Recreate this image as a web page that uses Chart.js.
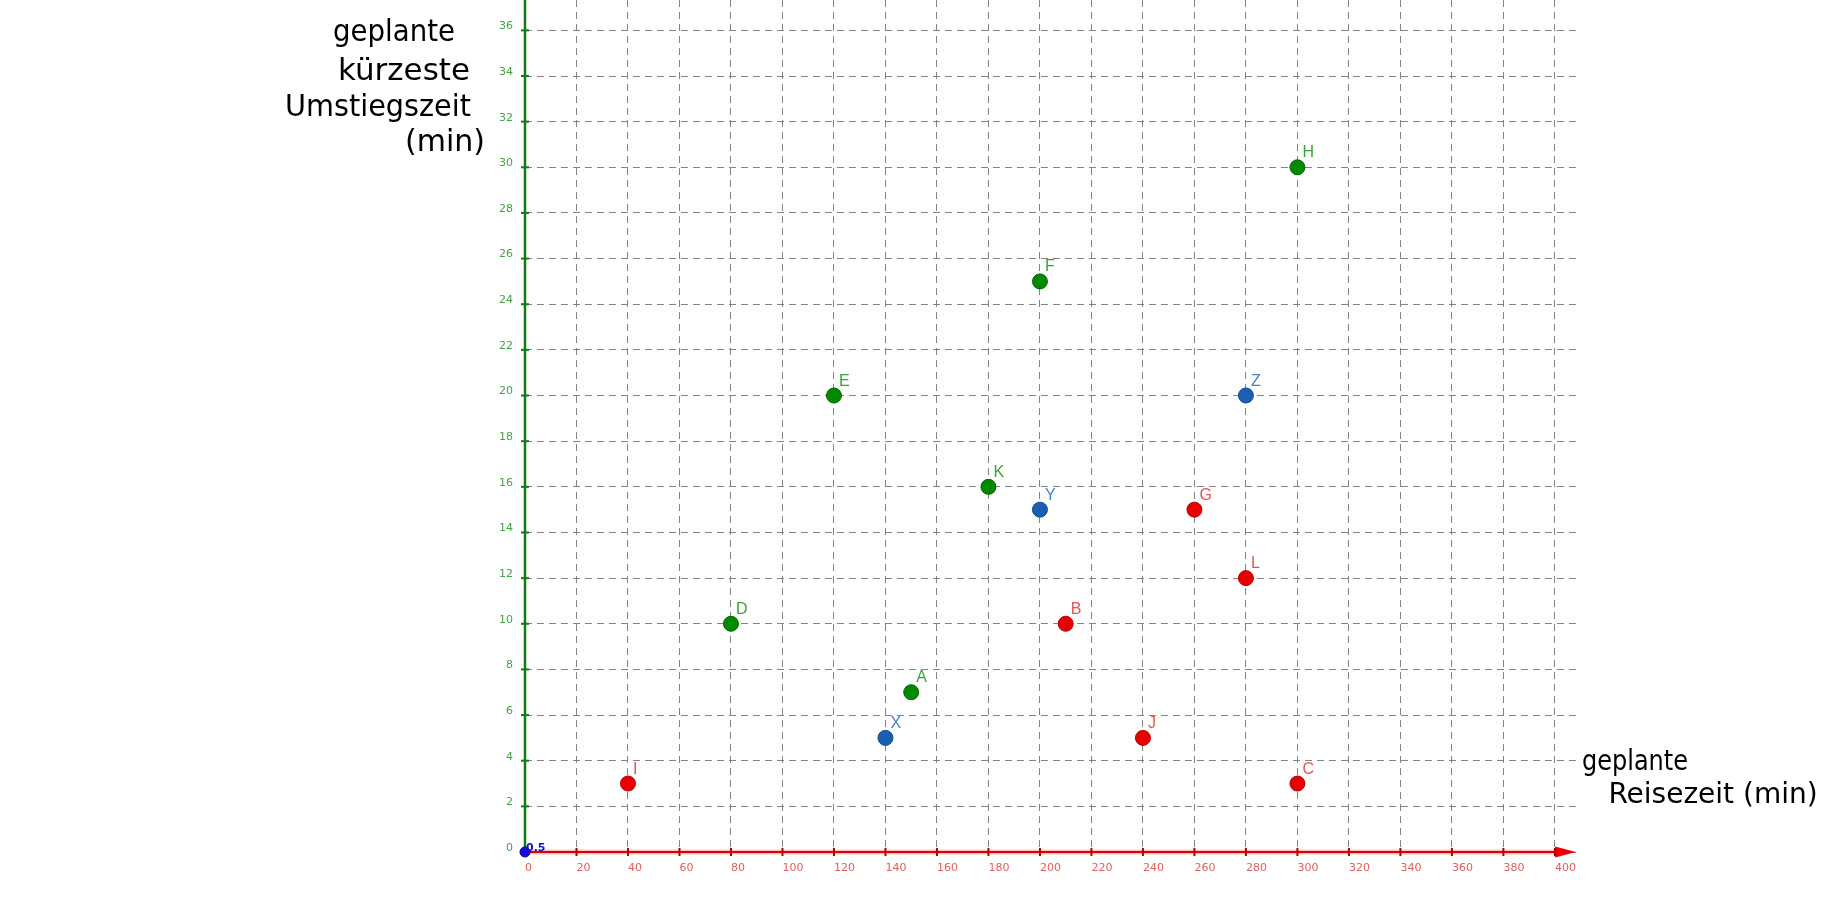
<!DOCTYPE html>
<html>
<head>
<meta charset="utf-8">
<script src="https://cdn.jsdelivr.net/npm/chart.js@4.4.1/dist/chart.umd.min.js"></script>
<style>
  html, body { margin: 0; padding: 0; background: #fff; }
</style>
</head>
<body>
<canvas id="myChart" width="1848" height="905"></canvas>
<script>
// data
const greenNames = ['A', 'D', 'E', 'F', 'H', 'K'];
const greenX = [150, 80, 120, 200, 300, 180];
const greenY = [7, 10, 20, 25, 30, 16];

const redNames = ['B', 'C', 'G', 'I', 'J', 'L'];
const redX = [210, 300, 260, 40, 240, 280];
const redY = [10, 3, 15, 3, 5, 12];

const blueNames = ['X', 'Y', 'Z'];
const blueX = [140, 200, 280];
const blueY = [5, 15, 20];

const originNames = ['0.5'];
const originX = [0];
const originY = [0];

const yTitle = ['geplante', 'kürzeste', 'Umstiegszeit', '(min)'];
const xTitle = ['geplante', 'Reisezeit (min)'];

function pts(xs, ys) {
    return xs.map((x, i) => ({ x: x, y: ys[i] }));
}

const axesPlugin = {
    id: 'axes',
    beforeDatasetsDraw(chart) {
        const c = chart.ctx;
        const xs = chart.scales.x, ys = chart.scales.y;
        const x0 = xs.getPixelForValue(0);
        const y0 = ys.getPixelForValue(0);
        const right = chart.chartArea.right;
        c.save();
        // y axis
        c.strokeStyle = '#137b13';
        c.lineWidth = 2.5;
        c.beginPath();
        c.moveTo(x0, 0);
        c.lineTo(x0, y0);
        c.stroke();
        c.lineWidth = 2;
        ys.ticks.forEach(t => {
            const p = ys.getPixelForValue(t.value);
            c.beginPath();
            c.moveTo(x0 - 4, p);
            c.lineTo(x0 + 4, p);
            c.stroke();
        });
        // x axis
        c.strokeStyle = 'rgba(255,80,80,0.35)';
        c.lineWidth = 5;
        c.beginPath();
        c.moveTo(x0, y0);
        c.lineTo(right - 18, y0);
        c.stroke();
        c.strokeStyle = '#e00000';
        c.lineWidth = 2;
        c.beginPath();
        c.moveTo(x0, y0);
        c.lineTo(right - 18, y0);
        c.stroke();
        c.fillStyle = '#ee0000';
        c.beginPath();
        c.moveTo(right, y0);
        c.lineTo(right - 21, y0 - 5.5);
        c.lineTo(right - 21, y0 + 5.5);
        c.closePath();
        c.fill();
        c.strokeStyle = '#b00000';
        xs.ticks.forEach(t => {
            if (t.value === 0) return;
            const p = xs.getPixelForValue(t.value);
            c.beginPath();
            c.moveTo(p, y0 - 4);
            c.lineTo(p, y0 + 4);
            c.stroke();
        });
        c.restore();
    }
};

const labelPlugin = {
    id: 'pointLabels',
    afterDatasetsDraw(chart) {
        const c = chart.ctx;
        c.save();
        chart.data.datasets.forEach((ds, i) => {
            const meta = chart.getDatasetMeta(i);
            c.fillStyle = ds.labelColor;
            c.font = ds.labelFont;
            c.textAlign = 'left';
            c.textBaseline = 'alphabetic';
            meta.data.forEach((el, j) => {
                c.fillText(ds.names[j], el.x + ds.labelDx, el.y + ds.labelDy);
            });
        });
        c.restore();
    }
};

const titlePlugin = {
    id: 'handTitles',
    afterDraw(chart) {
        const c = chart.ctx;
        c.save();
        c.fillStyle = '#000';
        c.textAlign = 'center';
        c.textBaseline = 'middle';
        c.font = '500 31px "DejaVu Sans"';
        c.fillText(yTitle[0], 394, 33, 122);
        c.fillText(yTitle[1], 404, 72, 132);
        c.fillText(yTitle[2], 378, 108, 186);
        c.fillText(yTitle[3], 445, 143, 80);
        c.font = '500 28px "DejaVu Sans"';
        c.fillText(xTitle[0], 1635, 763, 106);
        c.fillText(xTitle[1], 1713, 796, 230);
        c.restore();
    }
};

const ctx = document.getElementById('myChart');

new Chart(ctx, {
    type: 'scatter',
    data: {
        datasets: [
            {
                data: pts(originX, originY), names: originNames,
                backgroundColor: '#1010d8', borderColor: '#0000a0', borderWidth: 1,
                pointRadius: 5, labelColor: '#1414c8', labelFont: 'bold 11px "DejaVu Sans"',
                labelDx: 1, labelDy: -1, clip: false
            },
            {
                data: pts(greenX, greenY), names: greenNames,
                backgroundColor: '#008a00', borderColor: '#006400', borderWidth: 1,
                pointRadius: 7.5, labelColor: '#3ca23c', labelFont: '16px "Liberation Sans"',
                labelDx: 5, labelDy: -10, clip: false
            },
            {
                data: pts(redX, redY), names: redNames,
                backgroundColor: '#e80000', borderColor: '#b80000', borderWidth: 1,
                pointRadius: 7.5, labelColor: '#e25555', labelFont: '16px "Liberation Sans"',
                labelDx: 5, labelDy: -10, clip: false
            },
            {
                data: pts(blueX, blueY), names: blueNames,
                backgroundColor: '#1c5fb2', borderColor: '#124a90', borderWidth: 1,
                pointRadius: 7.5, labelColor: '#4a82c4', labelFont: '16px "Liberation Sans"',
                labelDx: 5, labelDy: -10, clip: false
            }
        ]
    },
    options: {
        responsive: false,
        animation: false,
        layout: { autoPadding: false, padding: { left: 495, right: 272, top: 0, bottom: 0 } },
        plugins: {
            legend: { display: false },
            tooltip: { enabled: false }
        },
        scales: {
            x: {
                type: 'linear',
                min: 0,
                max: 408.2,
                afterFit(s) { s.height = 53; s.paddingLeft = 0; s.paddingRight = 0; },
                border: { display: false, dash: [7, 5] },
                grid: { color: 'rgba(120,120,120,0.9)', lineWidth: 1, drawTicks: false },
                ticks: {
                    stepSize: 20, includeBounds: false, align: 'start', padding: 10,
                    color: '#e06060', font: { size: 11, family: 'DejaVu Sans' }, maxRotation: 0
                }
            },
            y: {
                type: 'linear',
                min: 0,
                max: 37.33,
                afterFit(s) { s.width = 30; s.paddingTop = 0; s.paddingBottom = 0; },
                border: { display: false, dash: [7, 5] },
                grid: { color: 'rgba(120,120,120,0.9)', lineWidth: 1, drawTicks: false },
                ticks: {
                    stepSize: 2, includeBounds: false, padding: 12, labelOffset: -4,
                    color: '#47a047', font: { size: 11, family: 'DejaVu Sans' }
                }
            }
        }
    },
    plugins: [axesPlugin, labelPlugin, titlePlugin]
});
</script>
</body>
</html>
